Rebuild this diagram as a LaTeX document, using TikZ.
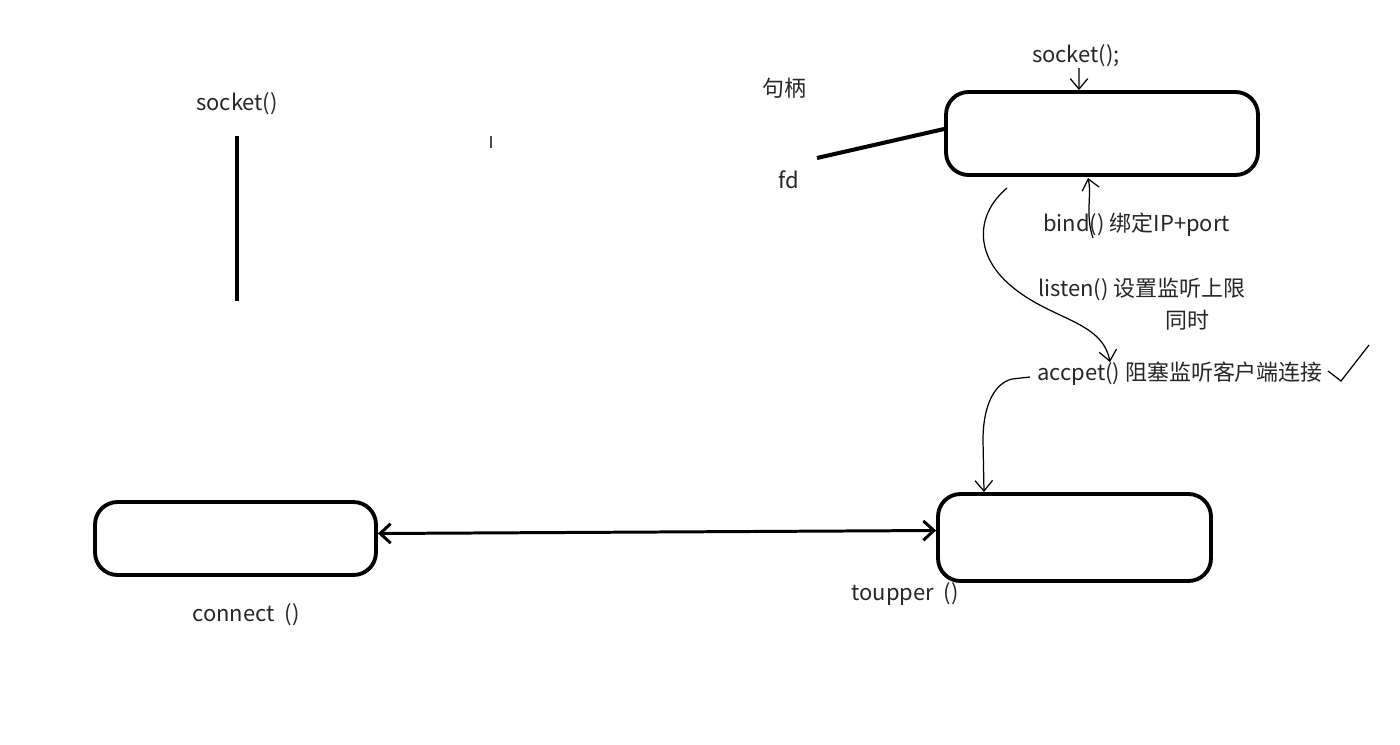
\documentclass[tikz,border=0pt]{standalone}
\usepackage{fontspec}
\setmainfont{Noto Sans CJK SC}
\usetikzlibrary{arrows.meta}
\begin{document}
\begin{tikzpicture}[x=0.02cm,y=-0.02cm,
  lbl/.style={font=\fontsize{12.5pt}{14pt}\selectfont, text=black!85, inner sep=0pt},
  box/.style={draw, line width=2.2pt, rounded corners=0.45cm, inner sep=0pt},
  thick line/.style={line width=2.3pt},
  thin line/.style={line width=0.7pt},
  tip/.style={-{Straight Barb[length=6pt,width=10pt]}},
  bigtip/.style={{Straight Barb[length=6pt,width=11pt]}-{Straight Barb[length=6pt,width=11pt]}}
]
\useasboundingbox (0,0) rectangle (1400,744);
% boxes
\node[box, minimum width=6.24cm, minimum height=1.66cm] (srv) at (1102,133.5) {};
\node[box, minimum width=5.46cm, minimum height=1.74cm] (acc) at (1074.5,537.5) {};
\node[box, minimum width=5.62cm, minimum height=1.46cm] (cli) at (235.5,538.5) {};
% left client line
\node[lbl] (sockL) at (237,104) {socket()};
\coordinate (vl1) at (237,136);
\coordinate (vl2) at (237,301);
\draw[thick line] (vl1) -- (vl2);
\coordinate (cur1) at (491,136);
\coordinate (cur2) at (491,148);
\draw[line width=0.6pt, black!70] (cur1) -- (cur2);
% handle
\node[lbl] (hdl) at (784,88) {句柄};
\node[lbl] (fd) at (789,180) {fd};
\coordinate (fdline) at (817,158);
\draw[thick line] (fdline) -- ([yshift=0.09cm]srv.west);
% socket();
\node[lbl] (sockR) at (1076,56) {socket();};
\coordinate (s0) at (1079,68);
\draw[thin line, tip] (s0) -- ([xshift=-0.46cm]srv.north);
% bind
\node[lbl, anchor=west] (bind) at (1043,225) {bind() 绑定IP+port};
\coordinate (b0) at (1093,238);
\coordinate (b1) at (1088,178);
\draw[thin line, tip] (b0) .. controls (1085,215) and (1092,195) .. (b1);
% listen
\node[lbl, anchor=west] (listen) at (1038,289) {listen() 设置监听上限};
\node[lbl] (tongshi) at (1187,320) {同时};
\coordinate (l0) at (1007,188);
\coordinate (lm) at (1010,285);
\coordinate (l1) at (1110,362);
\draw[thin line, tip] (l0) .. controls (975,215) and (975,255) .. (lm) .. controls (1050,320) and (1102,320) .. (l1);
% accept
\node[lbl, anchor=west] (accpet) at (1037,374) {accpet() 阻塞监听客户端连接};
\coordinate (a0) at (1030,377);
\coordinate (a1) at (1012,379);
\coordinate (a2) at (983,440);
\coordinate (a3) at (984,492);
\draw[thin line, tip] (a0) -- (a1) .. controls (992,384) and (983,410) .. (a2) -- (a3);
% check mark
\coordinate (c0) at (1328,371);
\coordinate (c1) at (1341,381);
\coordinate (c2) at (1369,345);
\draw[thin line] (c0) -- (c1) -- (c2);
% labels under boxes
\node[lbl] (toupper) at (905,594) {toupper\ \ ()};
\node[lbl] (connect) at (246,615) {connect\ \ ()};
% double arrow
\draw[line width=1.7pt, bigtip] ([yshift=0.1cm]cli.east) -- ([yshift=0.14cm]acc.west);
\end{tikzpicture}
\end{document}
